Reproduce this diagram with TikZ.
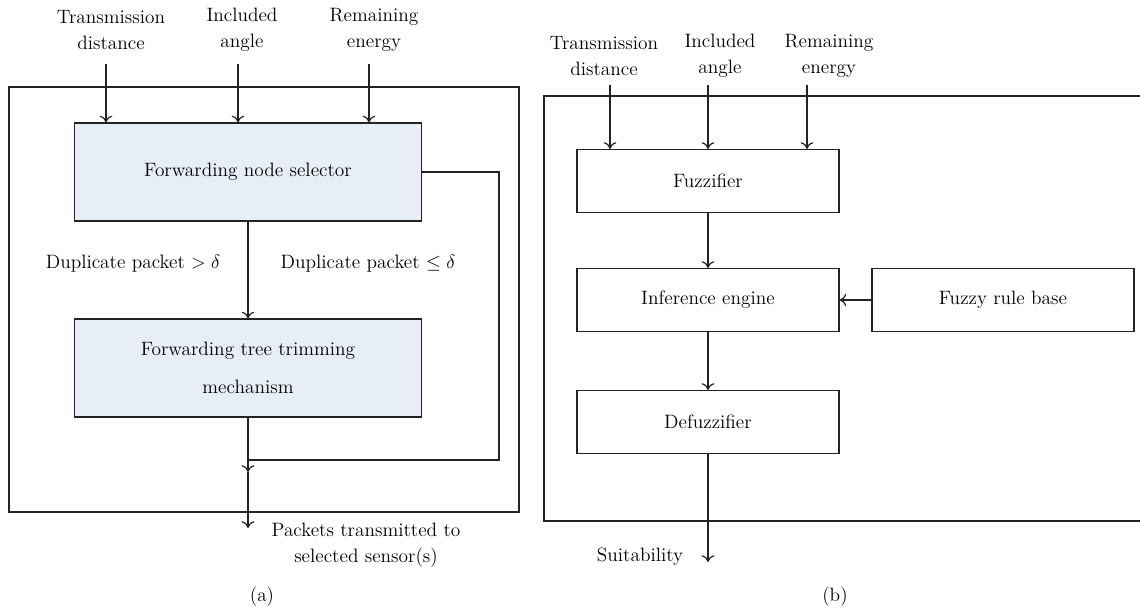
\documentclass[tikz,border=0pt]{standalone}
\usepackage{amssymb}
\usetikzlibrary{arrows.meta}

\definecolor{selfill}{RGB}{231,238,248}
\definecolor{linegray}{RGB}{35,35,35}

\tikzset{every picture/.style={line width=0.9pt}}
\tikzset{
  every node/.style={font=\fontsize{14.5}{19.5}\selectfont},
  inlbl/.style={align=center, inner sep=0.75pt},
  selbox/.style={draw=linegray, fill=selfill, align=center, inner sep=0.75pt,
                 minimum width=260.25pt, minimum height=73.5pt},
  fzbox/.style={draw=linegray, align=center, inner sep=0.75pt,
                minimum width=196.5pt, minimum height=47.25pt},
  arr/.style={-{To[length=5pt,width=9.5pt]}, draw=linegray}
}

\begin{document}
\begin{tikzpicture}[x=0.75pt,y=0.75pt,yscale=-1,xscale=1]
\useasboundingbox (0,0) rectangle (1140,610);

%Shape: Rectangle [frame a]
\draw [color=linegray] (9,87) rectangle (519,512);
%Shape: Rectangle [frame b, open at the right edge]
\draw [color=linegray] (1140,96) -| (544,521) -- (1140,521);

%%% (a)
% Text Node
\node [inlbl] (tdA) at (111,30) {Transmission\\distance};
% Text Node
\node [inlbl] (iaA) at (242,30) {Included\\angle};
% Text Node
\node [inlbl] (reA) at (374,30) {Remaining\\energy};

%Shape: Rectangle
\node [selbox] (sel) at (248,172) {Forwarding node selector};
%Shape: Rectangle
\node [selbox] (trim) at (248,368) {Forwarding tree trimming\\[9pt]mechanism};

\coordinate (tdAin) at (106,64);
\coordinate (iaAin) at (238,64);
\coordinate (reAin) at (369,64);
\coordinate (fbR) at (499,460);
\coordinate (fbL) at (248,460);
\coordinate (jn) at (248,472);
\coordinate (outA) at (248,528);

%Straight Lines
\draw [arr] (tdAin) -- (tdAin |- sel.north);
\draw [arr] (iaAin) -- (iaAin |- sel.north);
\draw [arr] (reAin) -- (reAin |- sel.north);
\draw [arr] (sel) -- (trim);
\draw [arr] (trim) -- (jn);
\draw [color=linegray] (sel.east) -| (fbR) -- (fbL);
\draw [arr] (jn) -- (outA);

% Text Node
\node [inlbl] (dupGt) at (133,264) {Duplicate packet $>\delta$};
% Text Node
\node [inlbl] (dupLe) at (368,264) {Duplicate packet $\leq\delta$};
% Text Node
\node [inlbl] (pkt) at (366,545) {Packets transmitted to\\selected sensor(s)};
% Text Node
\node [inlbl] (capA) at (262,597) {(a)};

%%% (b)
% Text Node
\node [inlbl] (tdB) at (604,56) {Transmission\\distance};
% Text Node
\node [inlbl] (iaB) at (720,56) {Included\\angle};
% Text Node
\node [inlbl] (reB) at (829,56) {Remaining\\energy};

%Shape: Rectangle
\node [fzbox] (fuzz) at (708,181) {Fuzzifier};
%Shape: Rectangle
\node [fzbox] (infer) at (708,300) {Inference engine};
%Shape: Rectangle
\node [fzbox] (rules) at (1003,300) {Fuzzy rule base};
%Shape: Rectangle
\node [fzbox] (defuzz) at (708,422) {Defuzzifier};

\coordinate (tdBin) at (610,85);
\coordinate (iaBin) at (708,85);
\coordinate (reBin) at (807,85);
\coordinate (outB) at (708,562);

%Straight Lines
\draw [arr] (tdBin) -- (tdBin |- fuzz.north);
\draw [arr] (iaBin) -- (iaBin |- fuzz.north);
\draw [arr] (reBin) -- (reBin |- fuzz.north);
\draw [arr] (fuzz) -- (infer);
\draw [arr] (rules) -- (infer);
\draw [arr] (infer) -- (defuzz);
\draw [arr] (defuzz) -- (outB);

% Text Node
\node [inlbl] (suit) at (640,557) {Suitability};
% Text Node
\node [inlbl] (capB) at (835,597) {(b)};

\end{tikzpicture}
\end{document}
